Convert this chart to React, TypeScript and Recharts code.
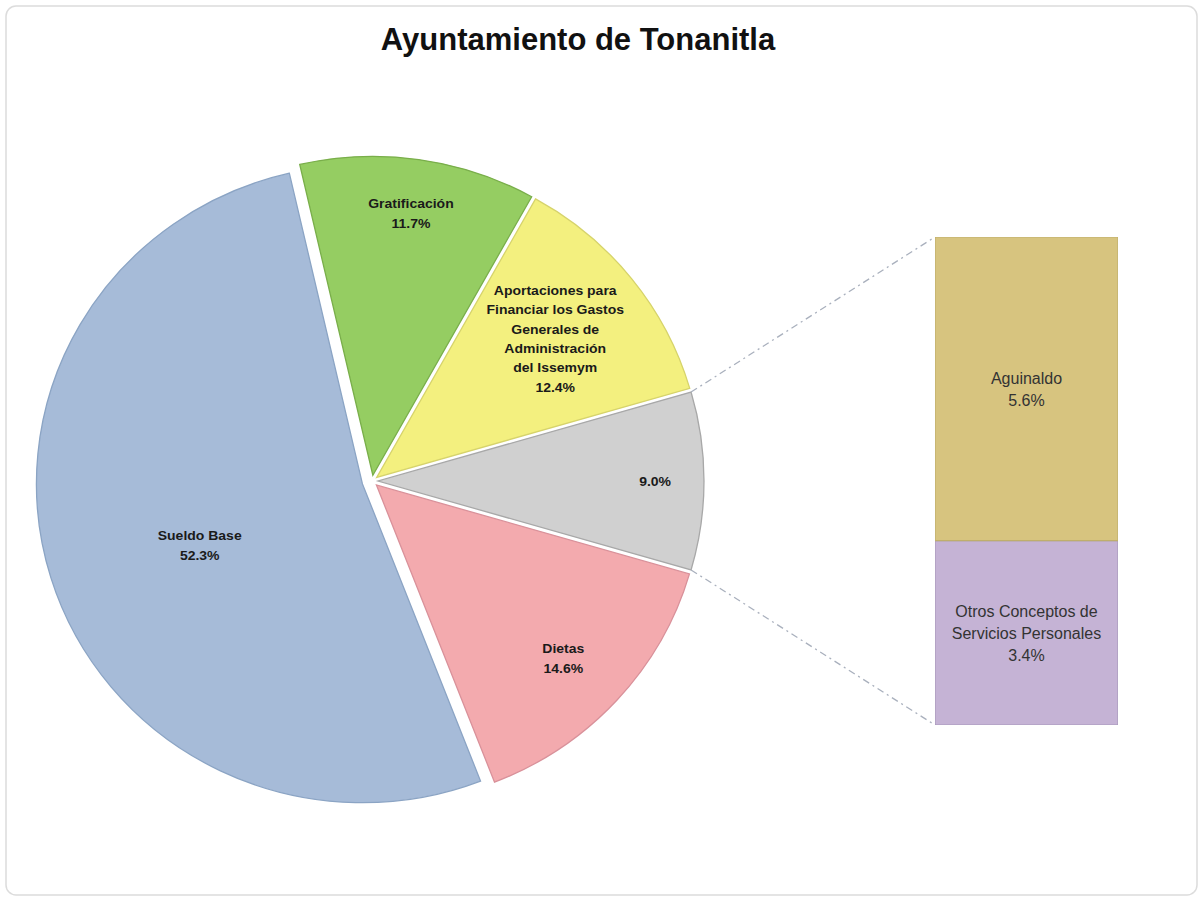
import React from 'react';
import { PieChart, Pie, Cell, BarChart, Bar, XAxis, YAxis, LabelList } from 'recharts';

const TITLE = 'Ayuntamiento de Tonanitla';

// pie slices, counter-clockwise starting from the slice that is split out
const SLICE_NAMES = [
  'Otros',
  'Aportaciones para Financiar los Gastos Generales de Administración del Issemym',
  'Gratificación',
  'Sueldo Base',
  'Dietas',
];
const SLICE_VALUES = [9.0, 12.4, 11.7, 52.3, 14.6];
const SLICE_LABEL_LINES = [
  [],
  ['Aportaciones para', 'Financiar los Gastos', 'Generales de', 'Administración', 'del Issemym'],
  ['Gratificación'],
  ['Sueldo Base'],
  ['Dietas'],
];

// breakdown of the split slice (bottom to top)
const BAR_NAMES = ['Otros Conceptos de Servicios Personales', 'Aguinaldo'];
const BAR_VALUES = [3.4, 5.6];
const BAR_LABEL_LINES = [['Otros Conceptos de', 'Servicios Personales'], ['Aguinaldo']];

const SLICE_COLORS = ['#d0d0d0', '#f3f07f', '#95cd62', '#a6bbd8', '#f3aaae'];
const SLICE_EDGES = ['#a8a8a8', '#d6d36b', '#79ae4a', '#8ba4c4', '#d9919a'];
const SLICE_EXPLODE = [6, 6, 6, 10, 6];
// [fraction of radius, angle shift]
const LABEL_PLACE: [number, number][] = [[0.85, 0], [0.7, 0], [0.83, 0], [0.535, 4], [0.79, -1]];

const BAR_COLORS = ['#c5b3d5', '#d7c47f'];
const BAR_EDGES = ['#a898bb', '#bfae6c'];

const FONT = '"Liberation Sans", Arial, sans-serif';
const CX = 372;
const CY = 481;
const R = 326;
const SQUASH = 0.978;
const BAR_BOX = { left: 935, top: 237, width: 183, height: 488 };

const RAD = Math.PI / 180;
const total = SLICE_VALUES.reduce((a, b) => a + b, 0);
let acc = -(SLICE_VALUES[0] / total) * 180;
const slices = SLICE_VALUES.map(v => {
  const start = acc;
  const end = acc + (v / total) * 360;
  acc = end;
  return { start, end, mid: (start + end) / 2 };
});

const sliceCenter = (i: number) => ({
  x: CX + SLICE_EXPLODE[i] * Math.cos(slices[i].mid * RAD),
  y: CY - SLICE_EXPLODE[i] * Math.sin(slices[i].mid * RAD),
});

const renderSliceLabel = (i: number) => (props: any) => {
  const { cx, cy, midAngle, outerRadius } = props;
  const [f, shift] = LABEL_PLACE[i];
  const a = (midAngle + shift) * RAD;
  const x = cx + outerRadius * f * Math.cos(a);
  const y = cy - outerRadius * f * Math.sin(a);
  const lines = [...SLICE_LABEL_LINES[i], `${SLICE_VALUES[i].toFixed(1)}%`];
  const lh = 19.8;
  const y0 = y - ((lines.length - 1) * lh) / 2 + 5;
  return (
    <text x={x} y={y0} textAnchor="middle" fontFamily={FONT} fontWeight="bold" fontSize={14} fill="#1a1a1a">
      {lines.map((l, k) => (
        <tspan key={k} x={x} y={y0 + k * lh}>{l}</tspan>
      ))}
    </text>
  );
};

const renderBarLabel = (i: number) => (props: any) => {
  const { x, y, width, height } = props;
  const lines = [...BAR_LABEL_LINES[i], `${BAR_VALUES[i].toFixed(1)}%`];
  const lh = 22;
  const tx = x + width / 2;
  const y0 = y + height / 2 - ((lines.length - 1) * lh) / 2 + 6;
  return (
    <text x={tx} y={y0} textAnchor="middle" fontFamily={FONT} fontSize={16} fill="#333">
      {lines.map((l, k) => (
        <tspan key={k} x={tx} y={y0 + k * lh}>{l}</tspan>
      ))}
    </text>
  );
};

const barData = [{ cat: 'Otros', otros: BAR_VALUES[0], aguinaldo: BAR_VALUES[1] }];

export default function App() {
  const g = sliceCenter(0);
  const squashY = (y: number) => CY + (y - CY) * SQUASH;
  const topCorner = { x: g.x + R * Math.cos(slices[0].end * RAD), y: squashY(g.y - R * Math.sin(slices[0].end * RAD)) };
  const botCorner = { x: g.x + R * Math.cos(slices[0].start * RAD), y: squashY(g.y - R * Math.sin(slices[0].start * RAD)) };

  return (
    <div style={{ position: 'absolute', left: 0, top: 0, width: 1203, height: 901, background: '#fff' }}>
      <div
        style={{
          position: 'absolute',
          left: 0,
          top: 0,
          transform: `scaleY(${SQUASH})`,
          transformOrigin: `0px ${CY}px`,
        }}
      >
        <PieChart width={1203} height={901} margin={{ top: 0, right: 0, bottom: 0, left: 0 }}>
          {SLICE_VALUES.map((v, i) => {
            const c = sliceCenter(i);
            return (
              <Pie
                key={SLICE_NAMES[i]}
                data={[{ name: SLICE_NAMES[i], value: v }]}
                dataKey="value"
                nameKey="name"
                cx={c.x}
                cy={c.y}
                outerRadius={R}
                startAngle={slices[i].start}
                endAngle={slices[i].end}
                stroke={SLICE_EDGES[i]}
                strokeWidth={1.3}
                label={renderSliceLabel(i)}
                labelLine={false}
                isAnimationActive={false}
              >
                <Cell fill={SLICE_COLORS[i]} />
              </Pie>
            );
          })}
        </PieChart>
      </div>
      <div style={{ position: 'absolute', left: BAR_BOX.left, top: BAR_BOX.top }}>
        <BarChart
          width={BAR_BOX.width}
          height={BAR_BOX.height}
          data={barData}
          margin={{ top: 0, right: 0, bottom: 0, left: 0 }}
          barCategoryGap={0}
        >
          <XAxis dataKey="cat" hide />
          <YAxis hide domain={[0, 'dataMax']} />
          <Bar dataKey="otros" name={BAR_NAMES[0]} stackId="s" fill={BAR_COLORS[0]} stroke={BAR_EDGES[0]} strokeWidth={1.2} isAnimationActive={false}>
            <LabelList dataKey="otros" content={renderBarLabel(0)} />
          </Bar>
          <Bar dataKey="aguinaldo" name={BAR_NAMES[1]} stackId="s" fill={BAR_COLORS[1]} stroke={BAR_EDGES[1]} strokeWidth={1.2} isAnimationActive={false}>
            <LabelList dataKey="aguinaldo" content={renderBarLabel(1)} />
          </Bar>
        </BarChart>
      </div>
      <svg width={1203} height={901} style={{ position: 'absolute', left: 0, top: 0, pointerEvents: 'none' }}>
        <rect x={6} y={6} width={1191} height={889} rx={10} fill="none" stroke="#dcdcdc" strokeWidth={1.5} />
        <text x={578} y={50} textAnchor="middle" fontFamily={FONT} fontWeight="bold" fontSize={31} fill="#111">
          {TITLE}
        </text>
        <line x1={topCorner.x} y1={topCorner.y} x2={BAR_BOX.left} y2={BAR_BOX.top} stroke="#a9b0bd" strokeWidth={1.3} strokeDasharray="7 4 2 4" />
        <line x1={botCorner.x} y1={botCorner.y} x2={BAR_BOX.left} y2={BAR_BOX.top + BAR_BOX.height} stroke="#a9b0bd" strokeWidth={1.3} strokeDasharray="7 4 2 4" />
      </svg>
    </div>
  );
}
